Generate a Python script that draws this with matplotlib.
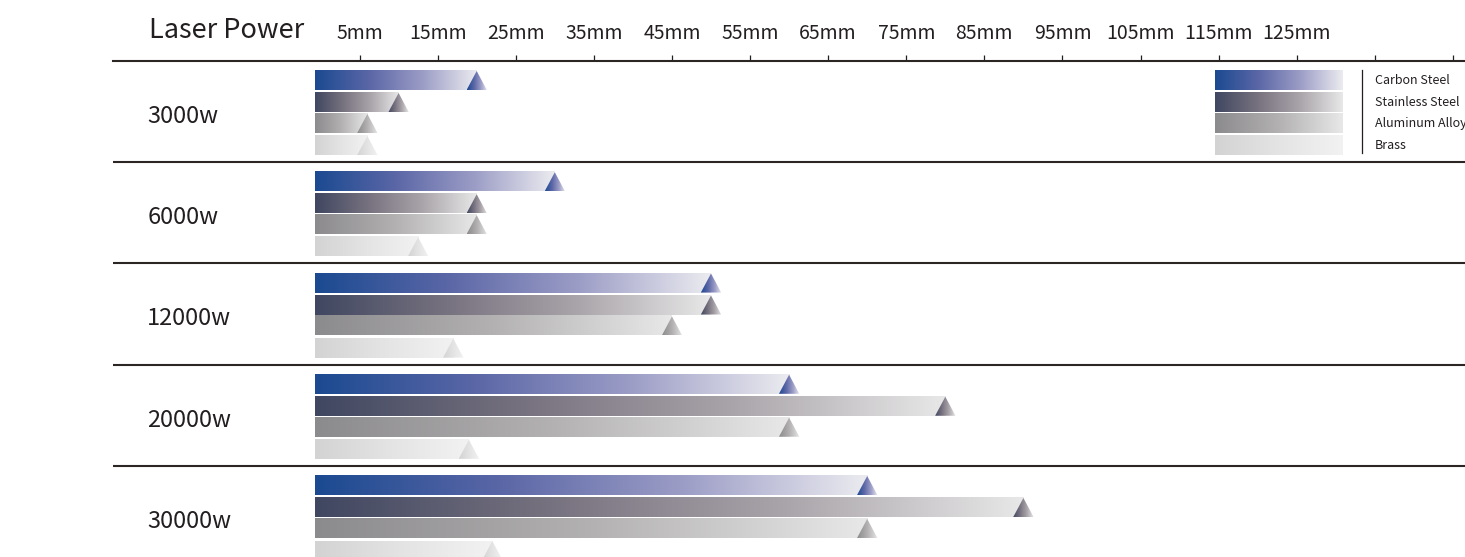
import numpy as np
import matplotlib.pyplot as plt
from matplotlib.colors import LinearSegmentedColormap
from matplotlib.patches import Polygon

plt.rcParams['font.family'] = ['Noto Sans CJK SC', 'DejaVu Sans']

# cutting thickness (mm) per laser power
powers = ['3000w', '6000w', '12000w', '20000w', '30000w']
materials = ['Carbon Steel', 'Stainless Steel', 'Aluminum Alloy', 'Brass']
carbon_steel = [20, 30, 50, 60, 70]
stainless_steel = [10, 20, 50, 80, 90]
aluminum_alloy = [6, 20, 45, 60, 70]
brass = [6, 12.5, 17, 19, 22]
tick_mm = [5, 15, 25, 35, 45, 55, 65, 75, 85, 95, 105, 115, 125, 135, 145]
tick_labels = ['5mm', '15mm', '25mm', '35mm', '45mm', '55mm', '65mm', '75mm',
               '85mm', '95mm', '105mm', '115mm', '125mm', '', '']

series = [carbon_steel, stainless_steel, aluminum_alloy, brass]
cmaps = [
    LinearSegmentedColormap.from_list('cs', ['#1b4a91', '#5a66a6', '#9c9dc6', '#ebebf0']),
    LinearSegmentedColormap.from_list('ss', ['#404761', '#77727f', '#aaa5aa', '#e8e8e8']),
    LinearSegmentedColormap.from_list('al', ['#8b8a8d', '#b3b1b1', '#e8e8e8']),
    LinearSegmentedColormap.from_list('br', ['#d3d3d3', '#e4e4e4', '#f2f2f2']),
]
text_color = '#231f20'
line_color = '#2b2523'

# layout (row units on y, mm on x)
bar_tops = [0.099, 0.316, 0.523, 0.741]
bar_h = 0.188
bar_left = -0.7
tri_w = 2.6
grad = np.linspace(0, 1, 256).reshape(1, -1)

fig = plt.figure(figsize=(14.65, 5.57), dpi=100)
ax = fig.add_axes([113 / 1465, 0, 1352 / 1465, 496 / 557])


def gradient_bar(x0, x1, top, cmap):
    ax.imshow(grad, cmap=cmap, extent=(x0, x1, top + bar_h, top),
              aspect='auto', interpolation='bilinear', zorder=2)


def triangle(xc, top, cmap):
    bottom = top + bar_h
    tri = Polygon([(xc - tri_w / 2, bottom), (xc, top), (xc + tri_w / 2, bottom)],
                  closed=True, facecolor='none', edgecolor='none')
    ax.add_patch(tri)
    im = ax.imshow(grad, cmap=cmap, extent=(xc - tri_w / 2, xc + tri_w / 2, bottom, top),
                   aspect='auto', interpolation='bilinear', zorder=3)
    im.set_clip_path(tri)


for r, power in enumerate(powers):
    for m, vals in enumerate(series):
        top = r + bar_tops[m]
        gradient_bar(bar_left, vals[r], top, cmaps[m])
        triangle(vals[r], top, cmaps[m])
    ax.text(-22.2, r + 0.612, power, fontsize=17, color=text_color, va='baseline')
    if r > 0:
        ax.axhline(r, color=line_color, lw=1.5, zorder=1)

# legend
for m, name in enumerate(materials):
    top = bar_tops[m]
    ax.imshow(grad, cmap=cmaps[m], extent=(114.5, 130.8, top + bar_h, top),
              aspect='auto', interpolation='bilinear', zorder=2)
    ax.text(135.0, top + bar_h / 2, name, fontsize=9, color=text_color,
            va='center', ha='left')
ax.plot([133.4, 133.4], [0.09, 0.91], color=text_color, lw=0.9)

ax.set_xlim(-26.57, 146.54)
ax.set_ylim(4.899, 0)
ax.set_yticks([])
ax.xaxis.tick_top()
ax.set_xticks(tick_mm)
ax.set_xticklabels(tick_labels)
ax.tick_params(axis='x', direction='out', length=4, width=0.9, pad=8,
               labelsize=14, colors=text_color)
for side in ['left', 'right', 'bottom']:
    ax.spines[side].set_visible(False)
ax.spines['top'].set_color(line_color)
ax.spines['top'].set_linewidth(1.5)

fig.text(149 / 1465, 1 - 38 / 557, 'Laser Power', fontsize=19.5, color=text_color,
         va='baseline', ha='left', fontweight='medium')

fig.savefig('out.png', dpi=100)
